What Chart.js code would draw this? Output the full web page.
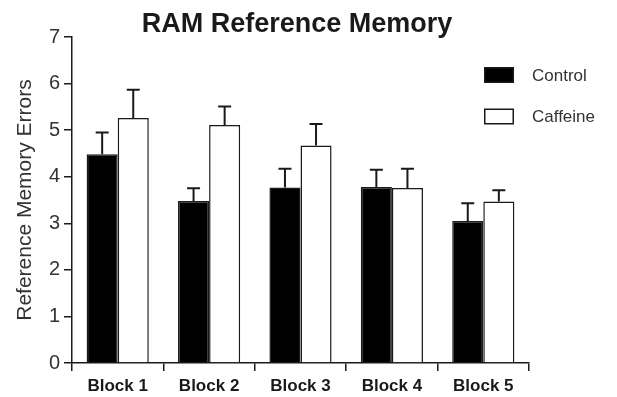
<!DOCTYPE html>
<html>
<head>
<meta charset="utf-8">
<script src="https://cdn.jsdelivr.net/npm/chart.js@4/dist/chart.umd.min.js"></script>
<style>
  html, body { margin: 0; padding: 0; background: #fff; }
  #wrap { width: 617px; height: 397px; }
</style>
</head>
<body>
<div id="wrap"><canvas id="c" width="617" height="397"></canvas></div>
<script>
// Reference memory errors per block (mean and SEM)
const blocks = ['Block 1', 'Block 2', 'Block 3', 'Block 4', 'Block 5'];
const controlMean = [4.48, 3.48, 3.77, 3.78, 3.05];
const controlSem = [0.47, 0.27, 0.40, 0.37, 0.38];
const caffeineMean = [5.26, 5.11, 4.67, 3.76, 3.47];
const caffeineSem = [0.61, 0.40, 0.46, 0.41, 0.24];
const yTicks = [0, 1, 2, 3, 4, 5, 6, 7];

const INK = '#1a1a1a';
const FONT = '"Liberation Sans", Arial, Helvetica, sans-serif';

// Upper-only SEM whiskers with a short cap, drawn on top of each bar
const errorBars = {
  id: 'errorBars',
  afterDatasetsDraw(chart) {
    const ctx = chart.ctx;
    const y = chart.scales.y;
    ctx.save();
    ctx.strokeStyle = INK;
    ctx.lineWidth = 2;
    chart.data.datasets.forEach((ds, di) => {
      const meta = chart.getDatasetMeta(di);
      meta.data.forEach((bar, i) => {
        const top = y.getPixelForValue(ds.data[i] + ds.sem[i]);
        const base = y.getPixelForValue(ds.data[i]);
        const cap = 6.5;
        ctx.beginPath();
        ctx.moveTo(bar.x, base);
        ctx.lineTo(bar.x, top);
        ctx.moveTo(bar.x - cap, top);
        ctx.lineTo(bar.x + cap, top);
        ctx.stroke();
      });
    });
    ctx.restore();
  }
};

// Title and boxed legend placed over the plot
const decorations = {
  id: 'decorations',
  afterDraw(chart) {
    const ctx = chart.ctx;
    ctx.save();
    ctx.fillStyle = INK;
    ctx.font = 'bold 27px ' + FONT;
    ctx.textAlign = 'center';
    ctx.textBaseline = 'alphabetic';
    ctx.fillText('RAM Reference Memory', 297, 32);

    ctx.font = '17px ' + FONT;
    ctx.textAlign = 'left';
    ctx.textBaseline = 'middle';
    chart.data.datasets.forEach((ds, i) => {
      const bx = 484, by = 67 + i * 41.5, bw = 30, bh = 16;
      ctx.fillStyle = ds.backgroundColor;
      ctx.fillRect(bx, by, bw, bh);
      ctx.strokeStyle = INK;
      ctx.lineWidth = 1.5;
      ctx.strokeRect(bx + 0.75, by + 0.75, bw - 1.5, bh - 1.5);
      ctx.fillStyle = '#333';
      ctx.fillText(ds.label, 532, by + bh / 2 + 1);
    });
    ctx.restore();
  }
};

new Chart(document.getElementById('c'), {
  type: 'bar',
  data: {
    labels: blocks,
    datasets: [
      {
        label: 'Control',
        data: controlMean,
        sem: controlSem,
        backgroundColor: '#000000',
        borderColor: INK,
        borderWidth: 1.5
      },
      {
        label: 'Caffeine',
        data: caffeineMean,
        sem: caffeineSem,
        backgroundColor: '#ffffff',
        borderColor: INK,
        borderWidth: 1.5
      }
    ]
  },
  options: {
    responsive: false,
    animation: false,
    layout: { padding: { top: 37, right: 88, bottom: 0, left: 0 } },
    categoryPercentage: 0.68,
    barPercentage: 1.0,
    plugins: {
      legend: { display: false },
      title: { display: false },
      tooltip: { enabled: false }
    },
    scales: {
      x: {
        offset: true,
        afterFit(scale) { scale.height = 34; },
        grid: {
          offset: true,
          drawOnChartArea: false,
          drawTicks: true,
          tickLength: 8,
          color: INK,
          lineWidth: 1.5
        },
        border: { display: true, color: INK, width: 1.5 },
        ticks: {
          color: INK,
          padding: 5,
          font: { family: FONT, size: 17, weight: 'bold' },
          maxRotation: 0
        }
      },
      y: {
        min: 0,
        max: 7,
        afterFit(scale) { scale.width = 72; },
        afterBuildTicks(scale) { scale.ticks = yTicks.map(v => ({ value: v })); },
        grid: {
          drawOnChartArea: false,
          drawTicks: true,
          tickLength: 8,
          color: INK,
          lineWidth: 1.5
        },
        border: { display: true, color: INK, width: 1.5 },
        ticks: {
          color: '#333',
          padding: 4,
          font: { family: FONT, size: 20 }
        },
        title: {
          display: true,
          text: 'Reference Memory Errors',
          color: '#333',
          font: { family: FONT, size: 21 },
          padding: { top: 13, bottom: 0 }
        }
      }
    }
  },
  plugins: [errorBars, decorations]
});
</script>
</body>
</html>
